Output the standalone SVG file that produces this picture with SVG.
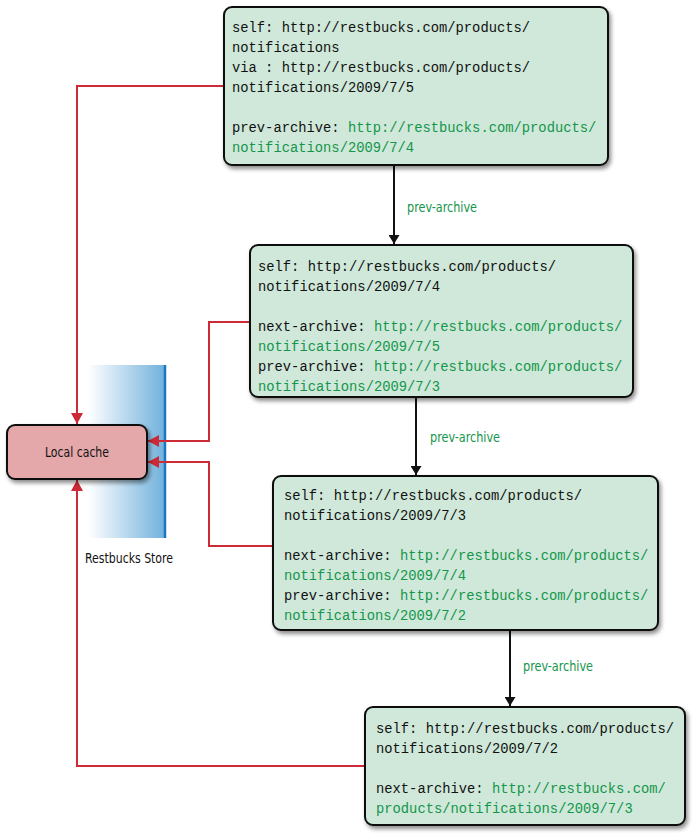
<svg xmlns="http://www.w3.org/2000/svg" width="698" height="839" viewBox="0 0 698 839">
<style>
.box{fill:#cfe8da;stroke:#111;stroke-width:2}
.mono{font-family:"Liberation Mono","DejaVu Sans Mono",monospace;font-size:13.8px;fill:#111}
.g{fill:#14964a}
.lbl{font-family:"DejaVu Sans Condensed","Liberation Sans",sans-serif;font-stretch:condensed;font-size:14px;fill:#14964a}
.red{fill:none;stroke:#cc2a36;stroke-width:2}
.blk{fill:none;stroke:#111;stroke-width:2}
</style>
<defs>
<filter id="sh" x="-10%" y="-10%" width="125%" height="130%">
<feDropShadow dx="2" dy="3" stdDeviation="2" flood-color="#000" flood-opacity="0.45"/>
</filter>
<linearGradient id="band" x1="0" y1="0" x2="1" y2="0">
<stop offset="0" stop-color="#ffffff"/>
<stop offset="1" stop-color="#6fb0dc"/>
</linearGradient>
<marker id="ar" viewBox="0 0 10 10" refX="10" refY="5" markerWidth="11" markerHeight="12" markerUnits="userSpaceOnUse" orient="auto" preserveAspectRatio="none">
<path d="M0,0 L10,5 L0,10 z" fill="#cc2a36"/>
</marker>
<marker id="ab" viewBox="0 0 10 10" refX="10" refY="5" markerWidth="9" markerHeight="11" markerUnits="userSpaceOnUse" orient="auto" preserveAspectRatio="none">
<path d="M0,0 L10,5 L0,10 z" fill="#111"/>
</marker>
</defs>
<rect x="0" y="0" width="698" height="839" fill="#fff"/>

<g id="store">
<rect x="88" y="365" width="78" height="173" fill="url(#band)"/>
<line x1="165" y1="365" x2="165" y2="538" stroke="#1a78c2" stroke-width="2.5"/>
<text x="129" y="563" text-anchor="middle" class="lbl" style="fill:#111" textLength="88" lengthAdjust="spacingAndGlyphs">Restbucks Store</text>
</g>

<g id="connectors">
<path class="red" d="M224,86 H77 V424" marker-end="url(#ar)"/>
<path class="red" d="M250,322 H209 V441 H148" marker-end="url(#ar)"/>
<path class="red" d="M273,546 H209 V462 H148" marker-end="url(#ar)"/>
<path class="red" d="M365,766 H77 V480" marker-end="url(#ar)"/>
<path class="blk" d="M394,166 V244" marker-end="url(#ab)"/>
<path class="blk" d="M416,398 V475" marker-end="url(#ab)"/>
<path class="blk" d="M510,631 V706" marker-end="url(#ab)"/>
<text x="407" y="212" class="lbl" textLength="70" lengthAdjust="spacingAndGlyphs">prev-archive</text>
<text x="430" y="442" class="lbl" textLength="70" lengthAdjust="spacingAndGlyphs">prev-archive</text>
<text x="523" y="671" class="lbl" textLength="70" lengthAdjust="spacingAndGlyphs">prev-archive</text>
</g>

<g id="cache">
<rect x="7" y="425" width="140" height="54" rx="8" fill="#e4a8aa" stroke="#111" stroke-width="2" filter="url(#sh)"/>
<text x="77" y="457" text-anchor="middle" class="lbl" style="fill:#111" textLength="64" lengthAdjust="spacingAndGlyphs">Local cache</text>
</g>

<g id="n1">
<rect class="box" x="224" y="7" width="384" height="158" rx="8" filter="url(#sh)"/>
<text class="mono" x="232" y="32">self: http://restbucks.com/products/</text>
<text class="mono" x="232" y="52">notifications</text>
<text class="mono" x="232" y="72">via : http://restbucks.com/products/</text>
<text class="mono" x="232" y="92">notifications/2009/7/5</text>
<text class="mono" x="232" y="132">prev-archive: <tspan class="g">http://restbucks.com/products/</tspan></text>
<text class="mono g" x="232" y="152">notifications/2009/7/4</text>
</g>

<g id="n2">
<rect class="box" x="250" y="245" width="383" height="152" rx="8" filter="url(#sh)"/>
<text class="mono" x="258" y="271">self: http://restbucks.com/products/</text>
<text class="mono" x="258" y="291">notifications/2009/7/4</text>
<text class="mono" x="258" y="331">next-archive: <tspan class="g">http://restbucks.com/products/</tspan></text>
<text class="mono g" x="258" y="351">notifications/2009/7/5</text>
<text class="mono" x="258" y="371">prev-archive: <tspan class="g">http://restbucks.com/products/</tspan></text>
<text class="mono g" x="258" y="391">notifications/2009/7/3</text>
</g>

<g id="n3">
<rect class="box" x="273" y="476" width="385" height="154" rx="8" filter="url(#sh)"/>
<text class="mono" x="284" y="500">self: http://restbucks.com/products/</text>
<text class="mono" x="284" y="520">notifications/2009/7/3</text>
<text class="mono" x="284" y="560">next-archive: <tspan class="g">http://restbucks.com/products/</tspan></text>
<text class="mono g" x="284" y="580">notifications/2009/7/4</text>
<text class="mono" x="284" y="600">prev-archive: <tspan class="g">http://restbucks.com/products/</tspan></text>
<text class="mono g" x="284" y="620">notifications/2009/7/2</text>
</g>

<g id="n4">
<rect class="box" x="365" y="707" width="320" height="118" rx="8" filter="url(#sh)"/>
<text class="mono" x="376" y="733">self: http://restbucks.com/products/</text>
<text class="mono" x="376" y="753">notifications/2009/7/2</text>
<text class="mono" x="376" y="793">next-archive: <tspan class="g">http://restbucks.com/</tspan></text>
<text class="mono g" x="376" y="813">products/notifications/2009/7/3</text>
</g>
</svg>
